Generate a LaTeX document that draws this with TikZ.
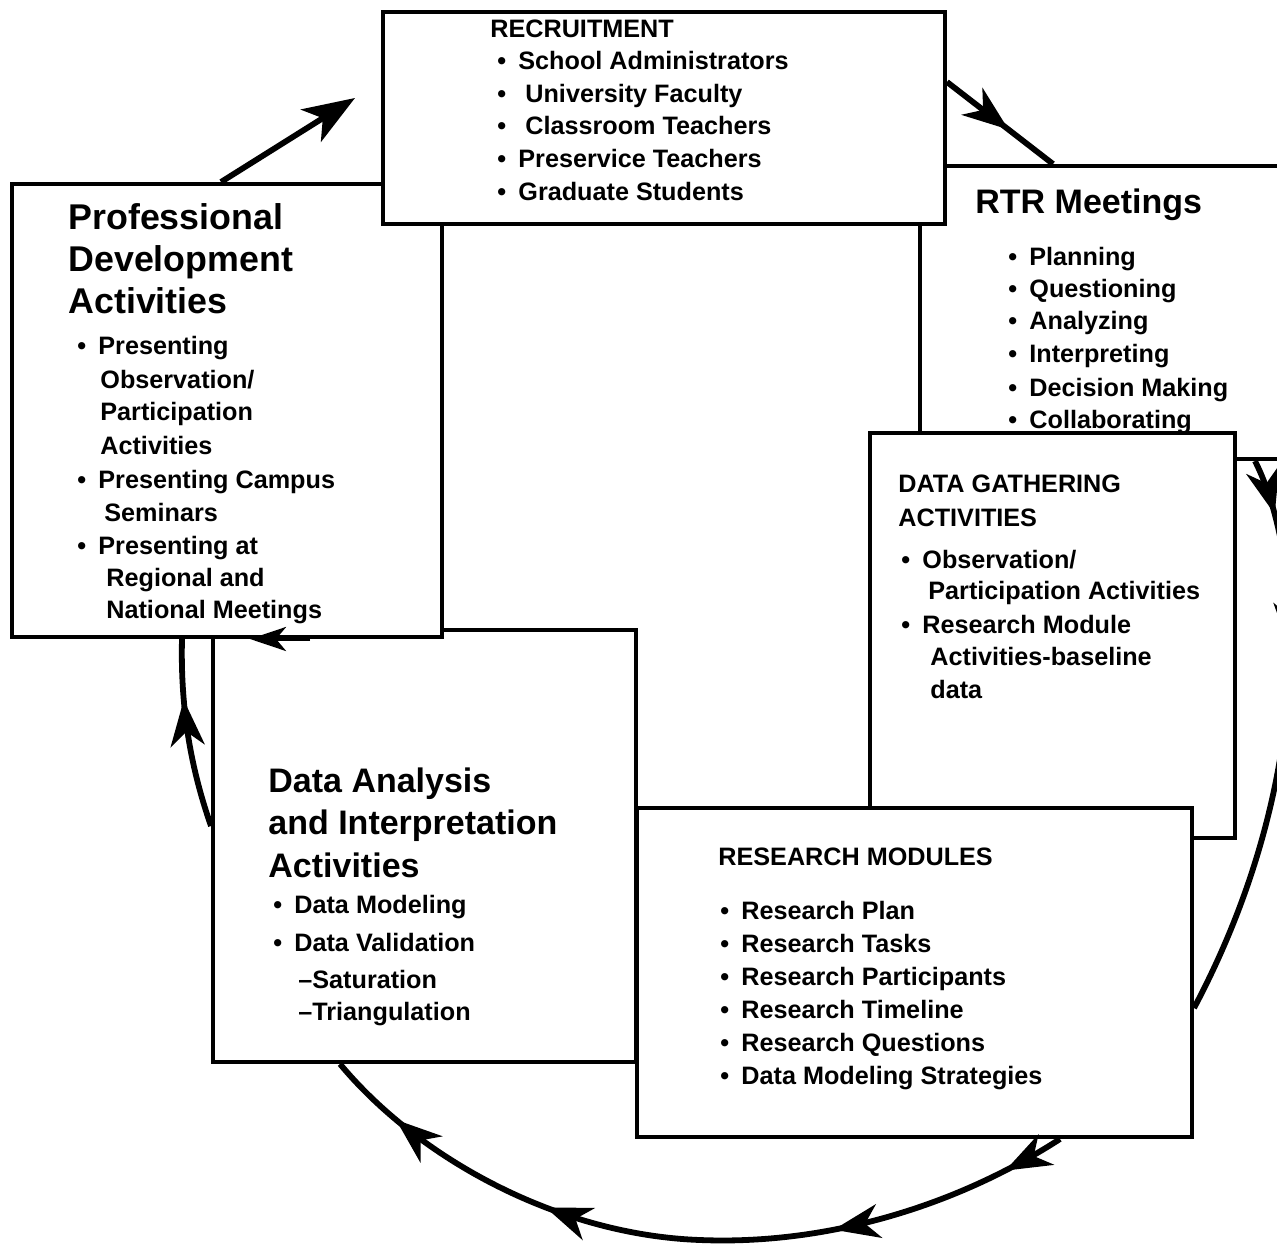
\documentclass[tikz,border=0pt]{standalone}
\usepackage{fontspec}
\setmainfont{Liberation Sans}
\usetikzlibrary{arrows.meta,decorations.markings,fit}
\newcommand\bulx{\makebox[10.5pt][l]{\textbullet}}
\begin{document}
\begin{tikzpicture}[x=0.5pt,y=-0.5pt,
  box/.style={draw, line width=2pt, fill=white, inner sep=0pt},
  body/.style={font=\bfseries\fontsize{12.6}{15}\selectfont, inner sep=0pt, anchor=base west},
  ttl/.style={font=\bfseries\fontsize{17}{20}\selectfont, inner sep=0pt, anchor=base west},
  pdttl/.style={font=\bfseries\fontsize{17.9}{22}\selectfont, inner sep=0pt, anchor=base west},
  cyc/.style={line width=2.9pt},
  bigtip/.tip={Stealth[length=26pt,width=19pt,inset=7pt]},
  midtip/.tip={Stealth[length=23pt,width=17pt,inset=7pt]},
]
\useasboundingbox (0,0) rectangle (1277,1245);
\clip (0,0) rectangle (1277,1245);
\fill[white] (0,0) rectangle (1277,1245);

% boxes (stacking order matters)
\node[box, fit={(213,630) (636,1062)}] (da) {};
\node[box, fit={(12,184) (442,637)}] (pd) {};
\node[box, fit={(920,166) (1320,459)}] (rtr) {};
\node[box, fit={(870,433) (1235,838)}] (dg) {};
\node[box, fit={(637,808) (1192,1137)}] (rm) {};
\node[box, fit={(383,12) (945,224)}] (rec) {};

% connectors
\coordinate (a1) at (355,98);
\draw[cyc, -{bigtip}] ([xshift=105.5pt]pd.north west) -- (a1);

\draw[cyc, decoration={markings, mark=at position 0.58 with {\arrow{midtip}}}, postaction={decorate}]
  ([yshift=-36pt]rec.north east) -- ([xshift=67.5pt]rtr.north west);

\draw[cyc, decoration={markings,
    mark=at position 0.10 with {\arrow{midtip}},
    mark=at position 0.34 with {\arrow{midtip}}}, postaction={decorate}]
  ([xshift=168.5pt]rtr.south west) .. controls (1305,560) and (1315,780) .. ([yshift=-101pt]rm.north east);

\draw[cyc, decoration={markings,
    mark=at position 0.08 with {\arrow{midtip}},
    mark=at position 0.31 with {\arrow{midtip}},
    mark=at position 0.68 with {\arrow{midtip}},
    mark=at position 0.90 with {\arrow{midtip}}}, postaction={decorate}]
  ([xshift=212.5pt]rm.south west) .. controls (950,1210) and (820,1245) .. (700,1240)
     .. controls (560,1235) and (420,1160) .. ([xshift=64.5pt]da.south west);

\draw[cyc, decoration={markings, mark=at position 0.68 with {\arrow{midtip}}}, postaction={decorate}]
  ([yshift=-99pt]da.north west) .. controls (195,780) and (180,720) .. ([xshift=86pt]pd.south west);

\draw[line width=2pt, -{Stealth[length=18pt,width=12pt,inset=5pt]}]
  ([xshift=150pt]pd.south west) -- ([xshift=120pt]pd.south west);

% texts
\foreach \yy/\xx/\txt [count=\i] in {
  38/490/{RECRUITMENT},
  70/497/{\bulx School Administrators},
  103/497/{\bulx\ University Faculty},
  135/497/{\bulx\ Classroom Teachers},
  168/497/{\bulx Preservice Teachers},
  201/497/{\bulx Graduate Students}}
  \node[body] (rec\i) at (\xx,\yy) {\txt};

\node[ttl] (rtrt) at (975,214) {RTR Meetings};
\foreach \yy/\txt [count=\i] in {
  266/{Planning}, 298/{Questioning}, 330/{Analyzing},
  363/{Interpreting}, 396/{Decision Making}, 428/{Collaborating}}
  \node[body] (rtr\i) at (1008,\yy) {\bulx\txt};

\foreach \yy/\txt [count=\i] in {
  230/{Professional}, 272/{Development}, 314/{Activities}}
  \node[pdttl] (pdt\i) at (68,\yy) {\txt};
\foreach \yy/\xx/\txt [count=\i] in {
  355/77/{\bulx Presenting},
  388/100/{Observation/},
  421/100/{Participation},
  454/100/{Activities},
  488/77/{\bulx Presenting Campus},
  521/104/{Seminars},
  554/77/{\bulx Presenting at},
  586/106/{Regional and},
  618/106/{National Meetings}}
  \node[body] (pd\i) at (\xx,\yy) {\txt};

\foreach \yy/\xx/\txt [count=\i] in {
  492/898/{DATA GATHERING},
  526/898/{ACTIVITIES},
  568/901/{\bulx Observation/},
  599/928/{Participation Activities},
  633/901/{\bulx Research Module},
  665/930/{Activities-baseline},
  698/930/{data}}
  \node[body] (dg\i) at (\xx,\yy) {\txt};

\foreach \yy/\txt [count=\i] in {
  792/{Data Analysis}, 834/{and Interpretation}, 877/{Activities}}
  \node[ttl] (dat\i) at (268,\yy) {\txt};
\foreach \yy/\xx/\txt [count=\i] in {
  913/273/{\bulx Data Modeling},
  951/273/{\bulx Data Validation},
  988/298/{--Saturation},
  1020/298/{--Triangulation}}
  \node[body] (da\i) at (\xx,\yy) {\txt};

\node[body] (rmt) at (718,865) {RESEARCH MODULES};
\foreach \yy/\txt [count=\i] in {
  919/{Research Plan}, 952/{Research Tasks}, 985/{Research Participants},
  1018/{Research Timeline}, 1051/{Research Questions}, 1084/{Data Modeling Strategies}}
  \node[body] (rm\i) at (720,\yy) {\bulx\txt};
\end{tikzpicture}
\end{document}
